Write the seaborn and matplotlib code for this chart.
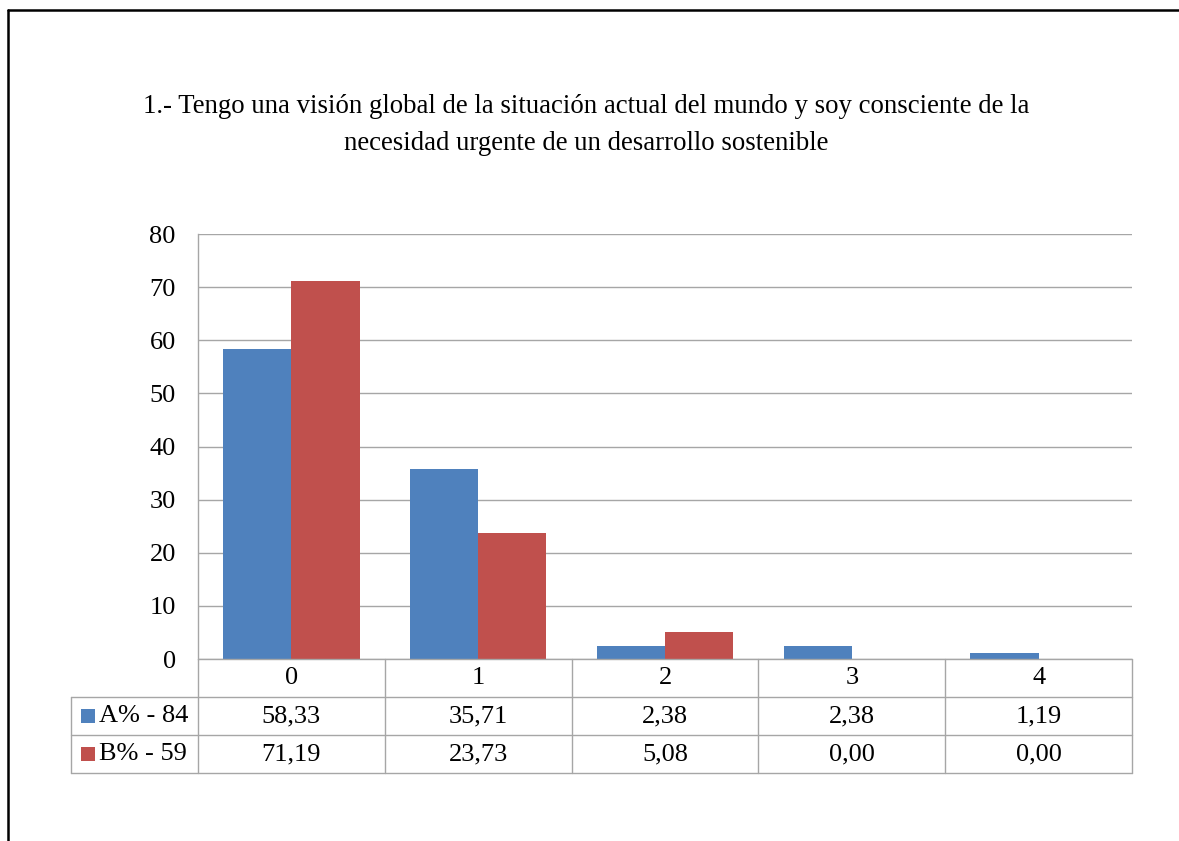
import numpy as np
import pandas as pd
import matplotlib
matplotlib.use("Agg")
import matplotlib.pyplot as plt
import seaborn as sns
from matplotlib.lines import Line2D
from matplotlib.patches import Rectangle

categories = ["0", "1", "2", "3", "4"]
series_names = ["A% - 84", "B% - 59"]
values_a = [58.33, 35.71, 2.38, 2.38, 1.19]
values_b = [71.19, 23.73, 5.08, 0.00, 0.00]
y_ticks = [0, 10, 20, 30, 40, 50, 60, 70, 80]
title = ("1.- Tengo una visión global de la situación actual del mundo y soy consciente de la\n"
         "necesidad urgente de un desarrollo sostenible")

colors = ["#4F81BD", "#C0504D"]
grid_c = "#A6A6A6"

sns.set_theme(style="white")
plt.rcParams["font.family"] = ["Liberation Serif", "DejaVu Serif"]
plt.rcParams["text.color"] = "black"
plt.rcParams["ytick.color"] = "black"
plt.rcParams["ytick.labelcolor"] = "black"

df = pd.DataFrame({
    "cat": categories * 2,
    "serie": [series_names[0]] * 5 + [series_names[1]] * 5,
    "val": values_a + values_b,
})

W, H = 1179, 841
fig = plt.figure(figsize=(W / 100, H / 100), dpi=100)
fig.patch.set_facecolor("white")

x0, x1, ytop, ybot = 198, 1132, 234, 659
ax = fig.add_axes([x0 / W, 1 - ybot / H, (x1 - x0) / W, (ybot - ytop) / H])

sns.barplot(data=df, x="cat", y="val", hue="serie", order=categories,
            hue_order=series_names, palette=colors, width=0.73, gap=0,
            saturation=1, legend=False, ax=ax, edgecolor="none")

FS = 19
ax.set_xlim(-0.5, 4.5)
ax.set_ylim(0, 80)
ax.set_yticks(y_ticks)
ax.set_yticklabels([str(t) for t in y_ticks], fontsize=FS, color="black")
ax.tick_params(axis="y", length=0, pad=16)
ax.set_xticks([])
ax.set_xlabel("")
ax.set_ylabel("")
ax.yaxis.grid(True, color=grid_c, linewidth=1.0)
ax.set_axisbelow(True)
for s in ["top", "right", "bottom"]:
    ax.spines[s].set_visible(False)
ax.spines["left"].set_color(grid_c)
ax.spines["left"].set_linewidth(1.0)

# data table below axes
row_h = 38 / (ybot - ytop)
tr = ax.get_xaxis_transform()
lw = 1.0
cat_px = (x1 - x0) / 5
left_edge = -0.5 - (x0 - 71) / cat_px
n = len(categories)
ax.add_line(Line2D([-0.5, n - 0.5], [0, 0], transform=tr, color=grid_c, lw=lw, clip_on=False))
for k in (1, 2, 3):
    ax.add_line(Line2D([left_edge, n - 0.5], [-k * row_h] * 2, transform=tr,
                       color=grid_c, lw=lw, clip_on=False))
for i in range(n + 1):
    ax.add_line(Line2D([i - 0.5] * 2, [0, -3 * row_h], transform=tr,
                       color=grid_c, lw=lw, clip_on=False))
ax.add_line(Line2D([left_edge] * 2, [-row_h, -3 * row_h], transform=tr,
                   color=grid_c, lw=lw, clip_on=False))

def fmt(v):
    return f"{v:.2f}".replace(".", ",")

for i, c in enumerate(categories):
    ax.text(i, -0.5 * row_h, c, transform=tr, ha="center", va="center", fontsize=FS)
    ax.text(i, -1.5 * row_h, fmt(values_a[i]), transform=tr, ha="center", va="center", fontsize=FS)
    ax.text(i, -2.5 * row_h, fmt(values_b[i]), transform=tr, ha="center", va="center", fontsize=FS)

ph = ybot - ytop
for r, (name, col) in enumerate(zip(series_names, colors)):
    yc = -(1.5 + r) * row_h
    ax.add_patch(Rectangle((left_edge + 10 / cat_px, yc - 7 / ph), 14 / cat_px, 14 / ph,
                           transform=tr, facecolor=col, edgecolor="none", clip_on=False))
    ax.text(left_edge + 28 / cat_px, yc, name, transform=tr, ha="left", va="center", fontsize=FS)

fig.text(586 / W, 1 - 125 / H, title, ha="center", va="center", fontsize=19.3,
         linespacing=1.62)

# outer chart border (top and left visible)
fig.add_artist(Line2D([8 / W, 8 / W], [0, 1 - 10 / H], transform=fig.transFigure, color="black", lw=1.8))
fig.add_artist(Line2D([8 / W, 1], [1 - 10 / H, 1 - 10 / H], transform=fig.transFigure, color="black", lw=1.8))

fig.savefig("out.png", dpi=100)
